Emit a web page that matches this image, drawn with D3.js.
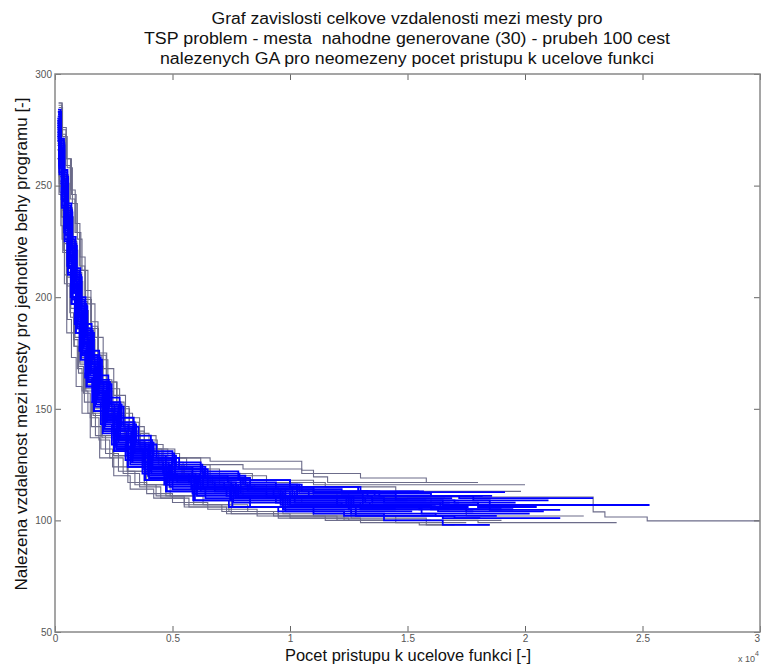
<!DOCTYPE html>
<html>
<head>
<meta charset="utf-8">
<script src="https://cdn.jsdelivr.net/npm/d3@7"></script>
<style>
  body { margin: 0; background: #fff; }
  svg { display: block; }
</style>
</head>
<body>
<div id="plot"></div>
<script>
// Chart texts
const titleLines = [
  "Graf zavislosti celkove vzdalenosti mezi mesty pro",
  "TSP problem - mesta  nahodne generovane (30) - prubeh 100 cest",
  "nalezenych GA pro neomezeny pocet pristupu k ucelove funkci"
];
const xLabel = "Pocet pristupu k ucelove funkci [-]";
const yLabel = "Nalezena vzdalenost mezi mesty pro jednotlive behy programu [-]";

// Axis ticks (x in evaluations, labelled in units of 10^4)
const xTicks = [0, 5000, 10000, 15000, 20000, 25000, 30000];
const xTickLabels = ["0", "0.5", "1", "1.5", "2", "2.5", "3"];
const yTicks = [50, 100, 150, 200, 250, 300];

// Runs: flat lists of x, y pairs (step after)
const runs = [
  [150,287, 300,276, 480,262, 700,246, 900,229, 1100,212, 1300,199, 1550,186, 1850,172, 2250,159, 2750,148, 3300,139, 4000,132, 4800,128, 6600,126.5, 10500,122.5, 11000,119.5, 11600,117, 18000,117],
  [100,270, 200,247, 300,226, 400,206, 520,190, 700,173, 900,160, 1150,148, 1500,137, 1900,128, 2500,120, 3200,114, 4200,110, 5500,106, 7500,103, 10000,101, 13000,99, 15500,98, 18500,98],
  [120,281, 220,268, 340,255, 460,240, 600,226, 760,212, 920,200, 1100,188, 1350,175, 1650,162, 2000,151, 2450,141, 3000,133, 3700,127, 4600,122, 5800,118, 7400,115, 9500,112, 12500,110, 16000,108, 19500,108],
  [100,276, 190,262, 300,247, 420,231, 560,215, 720,200, 900,187, 1100,175, 1350,163, 1700,151, 2100,141, 2600,133, 3300,126, 4100,121, 5200,117, 6800,113, 9000,110, 12000,107, 15500,105, 17500,105],
  [160,285, 320,272, 520,258, 740,242, 950,226, 1150,212, 1400,197, 1700,182, 2050,168, 2500,156, 3000,146, 3600,138, 4300,132, 5100,128, 6200,125, 8000,123, 10500,121, 13000,119, 15800,117, 17000,117],
  [110,279, 210,266, 330,250, 470,236, 620,221, 800,206, 980,194, 1200,181, 1450,169, 1750,158, 2150,147, 2650,138, 3250,131, 4000,125, 5000,120, 6300,116, 8200,113, 10800,110, 14000,108, 18000,106, 20500,106],
  [130,283, 240,271, 370,256, 520,241, 680,226, 850,212, 1030,199, 1250,186, 1500,174, 1800,162, 2200,152, 2700,142, 3300,134, 4000,128, 5000,123, 6400,119, 8300,115, 11000,112, 14500,109, 18500,104.7, 21500,104.7],
  [100,268, 190,252, 290,236, 400,220, 520,205, 660,191, 820,178, 1000,166, 1250,153, 1550,142, 1950,132, 2450,124, 3100,117, 3900,112, 5000,108, 6500,105, 8600,102, 11500,100, 14500,99, 17500,99],
  [120,277, 230,263, 350,248, 490,233, 640,218, 810,204, 1000,191, 1220,178, 1480,166, 1800,155, 2200,145, 2700,136, 3300,129, 4100,123, 5100,119, 6500,115, 8400,114, 11000,112.7, 19150,112.7],
  [140,282, 260,269, 400,254, 560,238, 730,222, 910,208, 1100,195, 1330,182, 1600,170, 1950,158, 2400,147, 2950,138, 3600,131, 4400,125, 5500,120, 7000,116, 9000,113, 12000,111, 15000,110.5, 22900,103.8, 23400,101.5, 25200,99.8, 30000,99.8],
  [110,280, 200,266, 320,251, 450,236, 600,221, 770,207, 950,194, 1160,182, 1400,170, 1700,159, 2050,149, 2500,140, 3050,132, 3750,126, 4600,121, 5700,117, 7200,114, 9300,111, 12500,109, 16500,106.9, 25300,106.9],
  [130,279, 240,265, 370,250, 510,235, 670,220, 840,206, 1030,193, 1250,180, 1500,168, 1820,157, 2200,147, 2700,138, 3300,130, 4000,124, 5000,119, 6300,115, 8000,111, 10500,108, 13500,105, 17500,102, 22500,102],
  [100,272, 190,257, 290,241, 400,226, 530,211, 680,197, 850,184, 1050,171, 1300,159, 1600,148, 2000,138, 2500,129, 3100,122, 3900,116, 4900,111, 6300,107, 8200,104, 11000,102, 14500,100, 18000,99, 23900,99],
  [110,274, 200,259, 310,243, 430,228, 570,213, 730,199, 910,186, 1120,174, 1380,162, 1700,151, 2100,141, 2600,132, 3200,125, 4000,119, 5000,114, 6400,110, 8300,106, 11000,103, 14000,100, 16500,98, 18500,98],
  [120,278, 220,264, 340,249, 480,234, 630,219, 800,205, 990,192, 1210,179, 1470,167, 1790,156, 2180,146, 2670,137, 3270,130, 4000,124, 4900,120, 6100,116, 7800,113, 10200,111, 13500,109, 15800,109],
  [100,275, 190,261, 300,245, 420,230, 560,216, 720,202, 900,189, 1100,177, 1350,165, 1660,154, 2040,144, 2520,135, 3120,128, 3850,122, 4800,117, 6000,113, 7700,110, 10000,107, 13000,105, 16800,105],
  [150,286, 290,273, 460,259, 650,244, 850,229, 1050,214, 1270,200, 1520,187, 1820,174, 2180,162, 2620,151, 3150,142, 3800,134, 4600,128, 5600,123, 7000,120, 9000,117, 11500,115, 14500,113, 19830,113],
  [120,280, 230,267, 360,252, 510,237, 670,222, 850,208, 1040,195, 1260,183, 1520,171, 1840,160, 2230,150, 2720,141, 3320,133, 4050,127, 4980,122, 6200,118, 7900,114, 10300,111, 13500,108, 17200,108],
  [100,273, 180,259, 280,244, 390,229, 520,214, 670,200, 840,188, 1040,176, 1280,164, 1580,153, 1950,143, 2420,134, 3000,127, 3720,121, 4650,116, 5850,112, 7500,109, 9800,106, 12800,104, 15200,104],
  [140,284, 260,270, 400,255, 560,240, 740,225, 930,211, 1140,198, 1380,186, 1660,174, 2000,163, 2420,153, 2940,144, 3580,136, 4350,130, 5300,125, 6600,121, 8400,118, 11000,116, 20000,116],
  [110,276, 210,262, 330,247, 470,232, 620,218, 790,204, 980,191, 1200,179, 1460,167, 1780,156, 2170,146, 2650,137, 3250,129, 3980,123, 4900,118, 6100,114, 7800,111, 10200,108, 13400,106, 17000,106],
  [130,282, 250,268, 390,253, 550,238, 720,223, 900,209, 1100,196, 1330,184, 1600,172, 1920,161, 2320,151, 2820,142, 3430,134, 4180,128, 5120,123, 6350,119, 8000,116, 10400,113, 13600,111, 17800,109, 21000,109],
  [100,266, 180,251, 270,236, 370,221, 490,206, 630,193, 790,181, 980,169, 1210,157, 1500,146, 1870,136, 2330,128, 2900,121, 3600,115, 4500,110, 5700,106, 7300,103, 9500,101, 12500,100, 16000,100],
  [120,279, 220,265, 350,250, 490,235, 650,220, 820,206, 1010,193, 1230,181, 1490,169, 1810,158, 2200,148, 2680,139, 3280,131, 4000,125, 4920,120, 6100,116, 7700,113, 10000,110, 13100,107, 16200,107],
  [110,277, 200,263, 320,248, 450,233, 600,218, 770,204, 960,191, 1180,178, 1440,166, 1760,155, 2150,145, 2630,136, 3230,128, 3960,122, 4870,117, 6050,113, 7600,110, 9900,107, 13000,105, 14500,105],
  [160,287, 300,275, 470,262, 660,248, 860,233, 1060,218, 1280,203, 1530,189, 1830,175, 2200,162, 2640,150, 3170,140, 3800,132, 4550,126, 5450,121, 6600,117, 8200,114, 10400,112, 13300,110, 16600,110],
  [100,271, 190,256, 290,241, 410,226, 540,211, 700,197, 880,184, 1090,172, 1340,160, 1650,149, 2030,139, 2510,131, 3100,124, 3830,118, 4750,113, 5950,109, 7550,106, 9800,104, 12800,102, 17000,101, 21500,101],
  [140,283, 260,269, 400,254, 560,239, 730,224, 910,210, 1110,197, 1340,185, 1610,173, 1940,162, 2340,152, 2840,143, 3450,135, 4200,129, 5150,124, 6400,120, 8100,116, 10500,113, 13800,111, 18200,111],
  [110,273, 200,258, 310,243, 430,228, 570,213, 730,199, 910,186, 1120,173, 1370,161, 1680,150, 2060,140, 2540,131, 3130,124, 3860,118, 4770,113, 5950,109, 7500,106, 9700,103, 12600,101, 15800,100, 19000,100],
  [120,281, 230,267, 360,252, 510,237, 670,222, 840,208, 1030,195, 1250,182, 1500,170, 1810,159, 2190,149, 2660,140, 3240,132, 3950,126, 4840,121, 5980,117, 7500,114, 9600,111, 12400,109, 15000,109],
  [100,277, 190,263, 300,248, 420,233, 560,219, 720,205, 900,192, 1110,180, 1360,168, 1670,157, 2050,147, 2530,138, 3120,130, 3850,124, 4760,119, 5920,115, 7450,112, 9600,109, 12500,107, 16000,105, 19500,105],
  [90,262, 170,246, 250,232, 330,220, 410,210, 500,184, 800,178, 950,168, 1150,158, 1400,148, 1720,138, 2150,130, 2700,122, 3400,116, 4300,111, 5500,107, 7100,104, 9300,102, 12000,100, 14000,100],
  [130,284, 240,271, 380,257, 530,242, 700,227, 880,213, 1080,200, 1300,188, 1560,176, 1880,165, 2270,155, 2750,146, 3350,138, 4080,131, 5000,126, 6200,122, 7800,118, 10000,115, 13000,113, 15500,113],
  [110,272, 200,258, 310,243, 440,228, 590,213, 760,199, 950,186, 1170,174, 1430,163, 1750,152, 2140,142, 2630,133, 3230,126, 3960,120, 4870,115, 6040,111, 7580,108, 9700,105, 12600,103, 16200,102, 18800,102],
  [150,280, 280,266, 430,251, 600,236, 780,221, 970,207, 1180,194, 1420,181, 1700,169, 2050,158, 2470,148, 2990,139, 3630,131, 4420,125, 5400,120, 6700,116, 8500,113, 11000,111, 14000,109, 16800,109],
  [100,279, 190,265, 300,250, 430,235, 580,220, 750,206, 940,193, 1160,180, 1420,168, 1740,157, 2130,147, 2620,138, 3220,130, 3950,124, 4850,119, 6000,115, 7500,112, 9600,109, 12400,107, 16000,106, 17600,106],
  [120,275, 220,261, 340,246, 480,231, 630,216, 810,202, 1000,189, 1220,177, 1490,165, 1810,154, 2210,144, 2700,135, 3310,128, 4060,122, 5000,117, 6200,113, 7800,110, 10000,108, 13000,106, 17500,104, 20800,104],
  [100,269, 180,254, 280,239, 390,224, 520,209, 670,195, 850,182, 1060,170, 1310,158, 1620,147, 2000,137, 2480,129, 3070,122, 3800,116, 4720,111, 5900,107, 7400,104, 9500,102, 12300,100, 15800,98, 17000,98],
  [130,281, 240,267, 370,252, 520,237, 690,222, 870,208, 1070,195, 1300,183, 1570,171, 1900,160, 2300,150, 2790,141, 3400,133, 4150,127, 5100,122, 6300,118, 7900,115, 10100,112, 13100,110, 16900,110],
  [110,278, 210,264, 330,249, 470,234, 620,219, 790,205, 980,192, 1200,180, 1460,168, 1780,157, 2170,147, 2660,138, 3260,130, 3990,124, 4900,119, 6070,115, 7620,112, 9800,109, 12700,107, 16400,105, 19000,105],
  [110,280, 200,267, 310,252, 440,238, 580,224, 740,210, 920,197, 1130,185, 1380,173, 1690,162, 2070,152, 2540,143, 3120,135, 3830,129, 4720,124, 5850,120, 7350,117, 9400,114, 12200,112, 16000,111, 18600,111],
  [100,274, 180,260, 280,246, 400,231, 540,217, 700,203, 880,190, 1090,178, 1340,166, 1650,155, 2020,145, 2490,136, 3070,129, 3790,123, 4680,118, 5800,114, 7300,111, 9400,108, 12200,106, 14800,106],
  [120,283, 230,270, 360,255, 510,240, 680,225, 860,211, 1060,198, 1290,186, 1560,174, 1890,163, 2290,153, 2780,144, 3390,136, 4130,130, 5070,125, 6270,121, 7850,118, 10000,115, 12900,113, 15700,113],
  [100,270, 190,255, 290,240, 410,225, 550,210, 710,197, 890,184, 1100,172, 1350,160, 1660,149, 2040,140, 2510,131, 3090,124, 3810,118, 4720,113, 5880,109, 7400,106, 9500,104, 12300,102, 16500,101, 18100,101],
  [130,279, 240,265, 370,250, 520,235, 680,221, 860,207, 1060,194, 1290,182, 1550,170, 1870,159, 2260,149, 2740,140, 3330,132, 4060,126, 4980,121, 6150,117, 7700,114, 9800,111, 12700,109, 17000,108, 19600,108],
  [110,276, 200,262, 320,247, 460,232, 610,217, 780,203, 970,190, 1190,178, 1450,166, 1770,155, 2160,145, 2640,136, 3240,129, 3980,123, 4900,118, 6070,114, 7600,111, 9700,108, 12600,106, 16300,104, 17800,104],
  [100,278, 190,264, 300,249, 430,234, 580,219, 750,205, 940,192, 1160,180, 1420,168, 1740,157, 2130,147, 2620,138, 3220,131, 3960,125, 4880,120, 6050,116, 7580,113, 9700,110, 12600,108, 16400,107, 18900,107],
  [120,277, 220,263, 350,248, 500,233, 660,218, 840,204, 1040,191, 1270,179, 1540,167, 1870,156, 2270,146, 2770,137, 3390,130, 4150,124, 5100,119, 6300,115, 7900,112, 10100,110, 13200,108, 16800,108],
  [100,272, 190,258, 300,243, 420,228, 560,214, 720,200, 900,188, 1110,176, 1360,164, 1670,153, 2050,143, 2520,134, 3110,127, 3840,121, 4750,116, 5920,112, 7450,109, 9600,107, 12500,105, 15600,103, 20200,103],
  [140,282, 260,268, 400,253, 560,238, 740,223, 930,209, 1140,196, 1380,184, 1660,172, 2000,161, 2410,151, 2920,142, 3550,134, 4320,128, 5280,123, 6500,119, 8100,116, 10300,113, 13300,111, 17200,110, 22900,110]
];
// one colour per run: "g" = grey-blue outline, "b" = pure blue
const runColors = "gggbgbbgbgbggbbbgbbgbbgbbgbbgbbgbbgbbgbbbbbbbbbbbb".split("");

const width = 761, height = 668;
const margin = { top: 74, right: 1, bottom: 36, left: 55 };
const plotW = width - margin.left - margin.right;
const plotH = height - margin.top - margin.bottom;

const svg = d3.select("#plot")
  .append("svg")
  .attr("width", width)
  .attr("height", height);

svg.append("rect")
  .attr("width", width)
  .attr("height", height)
  .attr("fill", "#fff");

// Title
svg.append("g")
  .selectAll("text")
  .data(titleLines)
  .enter()
  .append("text")
  .attr("x", 407)
  .attr("y", (d, i) => 24 + i * 20)
  .attr("text-anchor", "middle")
  .attr("textLength", (d, i) => [391, 526, 494][i])
  .attr("lengthAdjust", "spacingAndGlyphs")
  .style("white-space", "pre")
  .style("font-family", "'Liberation Sans', Arial, sans-serif")
  .style("font-size", "16px")
  .style("fill", "#111")
  .text(d => d);

const g = svg.append("g")
  .attr("transform", `translate(${margin.left}, ${margin.top})`);

const x = d3.scaleLinear().domain([0, 30000]).range([0, plotW]);
const y = d3.scaleLinear().domain([50, 300]).range([plotH, 0]);

g.append("defs").append("clipPath").attr("id", "clip")
  .append("rect").attr("width", plotW).attr("height", plotH);

// Runs
const line = d3.line()
  .x(d => x(d[0]))
  .y(d => y(d[1]))
  .curve(d3.curveStepAfter);

const toPairs = arr => d3.range(0, arr.length, 2).map(i => [arr[i], arr[i + 1]]);

const runData = runs.map((r, i) => ({ pts: toPairs(r), c: runColors[i] }));
// grey ones underneath, blue on top
runData.sort((a, b) => (a.c === "b") - (b.c === "b"));

g.append("g")
  .attr("clip-path", "url(#clip)")
  .selectAll("path")
  .data(runData)
  .enter()
  .append("path")
  .attr("d", d => line(d.pts))
  .attr("fill", "none")
  .attr("stroke", d => d.c === "b" ? "#0000ff" : "#6c6c8a")
  .attr("stroke-width", d => d.c === "b" ? 1.8 : 1.1);

// Axes (MATLAB style: ticks inside, boxed)
const tickFont = sel => sel.selectAll("text")
  .style("font-family", "'Liberation Sans Narrow', 'Liberation Sans', Arial, sans-serif")
  .style("font-size", "10px")
  .style("fill", "#555");
const axisStyle = sel => {
  sel.select(".domain").remove();
  sel.selectAll("line").attr("stroke", "#666");
};

g.append("g")
  .attr("transform", `translate(0, ${plotH})`)
  .call(d3.axisBottom(x).tickValues(xTicks).tickFormat((d, i) => xTickLabels[i])
    .tickSizeInner(-6).tickSizeOuter(0).tickPadding(3))
  .call(axisStyle)
  .call(tickFont)
  .call(sel => sel.selectAll(".tick").filter(d => d === 30000).select("text")
    .attr("text-anchor", "end").attr("dx", -0.5));

g.append("g")
  .call(d3.axisTop(x).tickValues(xTicks).tickFormat("").tickSizeInner(-6).tickSizeOuter(0))
  .call(axisStyle);

g.append("g")
  .call(d3.axisLeft(y).tickValues(yTicks).tickFormat(d3.format("d"))
    .tickSizeInner(-6).tickSizeOuter(0).tickPadding(3))
  .call(axisStyle)
  .call(tickFont);

g.append("g")
  .attr("transform", `translate(${plotW}, 0)`)
  .call(d3.axisRight(y).tickValues(yTicks).tickFormat("").tickSizeInner(-6).tickSizeOuter(0))
  .call(axisStyle);

// Box
g.append("rect")
  .attr("width", plotW)
  .attr("height", plotH)
  .attr("fill", "none")
  .attr("stroke", "#888")
  .attr("stroke-width", 1.5);

// Axis labels
svg.append("text")
  .attr("x", 408)
  .attr("y", 661)
  .attr("text-anchor", "middle")
  .attr("textLength", 246)
  .attr("lengthAdjust", "spacingAndGlyphs")
  .style("font-family", "'Liberation Sans', Arial, sans-serif")
  .style("font-size", "16px")
  .style("fill", "#111")
  .text(xLabel);

svg.append("text")
  .attr("transform", "translate(27, 344) rotate(-90)")
  .attr("text-anchor", "middle")
  .attr("textLength", 493)
  .attr("lengthAdjust", "spacingAndGlyphs")
  .style("font-family", "'Liberation Sans', Arial, sans-serif")
  .style("font-size", "16px")
  .style("fill", "#111")
  .text(yLabel);

// Exponent note
const expo = svg.append("text")
  .attr("x", 738)
  .attr("y", 662)
  .style("font-family", "'Liberation Sans Narrow', 'Liberation Sans', Arial, sans-serif")
  .style("font-size", "9px")
  .style("fill", "#555");
expo.append("tspan").text("x 10");
expo.append("tspan").attr("dy", -6).style("font-size", "7px").text("4");
</script>
</body>
</html>
